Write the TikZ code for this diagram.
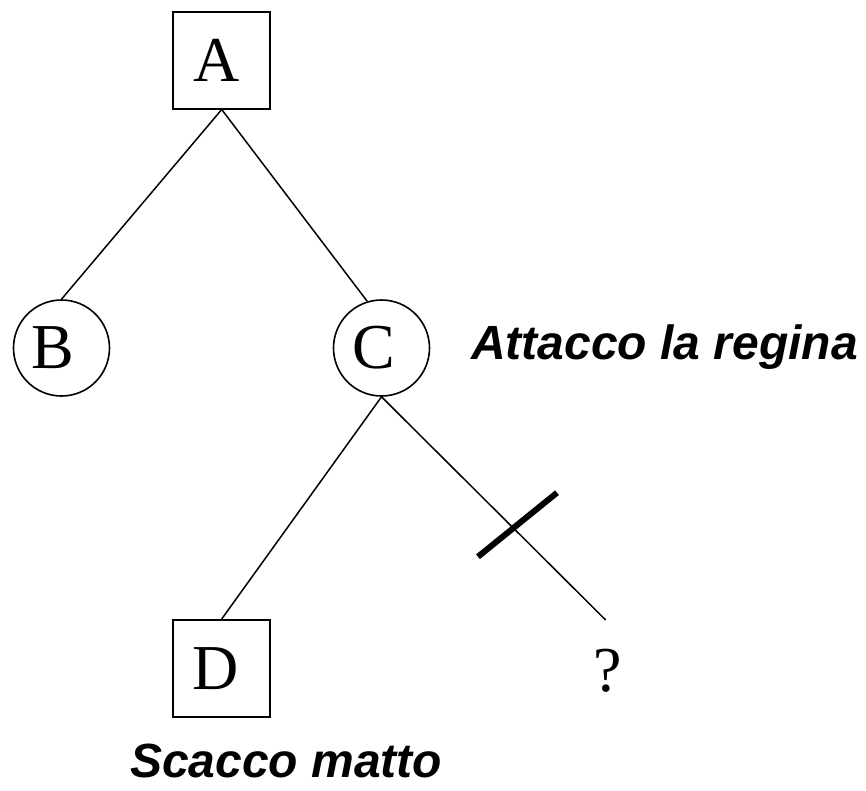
\documentclass[tikz,border=0pt]{standalone}
\usepackage{fontspec}
\setmainfont{Liberation Serif}
\newfontfamily\hvfont{Liberation Sans}
\newcommand{\nodetext}[2]{\raisebox{-2pt}{#1}\kern#2\relax}
\begin{document}
\begin{tikzpicture}[x=1pt,y=-1pt,
  sqnode/.style={draw,line width=2pt,rectangle,minimum size=97pt,inner sep=0pt,font=\fontsize{64}{64}\selectfont},
  cnode/.style={draw,line width=1.6pt,circle,minimum size=96pt,inner sep=0pt,font=\fontsize{64}{64}\selectfont},
  edge/.style={line width=1.5pt},
  lbl/.style={inner sep=0pt,anchor=base west,font=\hvfont\bfseries\itshape\fontsize{48}{48}\selectfont}]
\useasboundingbox (0,0) rectangle (866,790);
\node[sqnode] (A) at (221.7,60) {\nodetext{A}{10pt}};
\node[cnode] (B) at (61.5,348) {\nodetext{B}{17pt}};
\node[cnode] (C) at (381.5,348) {\nodetext{C}{16pt}};
\node[sqnode] (D) at (221.7,668.5) {\nodetext{D}{12pt}};
\node[inner sep=0pt,font=\fontsize{64}{64}\selectfont] (q) at (608,671) {?};
\coordinate (qe) at (605.7,620);
\coordinate (s1) at (478,556.7);
\coordinate (s2) at (557,492.7);
\draw[edge] (A.south) -- (B.north);
\draw[edge] (A.south) -- (C.107);
\draw[edge] (C.south) -- (D.north);
\draw[edge] (C.south) -- (qe);
\draw[line width=6pt] (s1) -- (s2);
\node[lbl] (t1) at (471,359) {Attacco la regina};
\node[lbl] (t2) at (130,777) {Scacco matto};
\end{tikzpicture}
\end{document}
